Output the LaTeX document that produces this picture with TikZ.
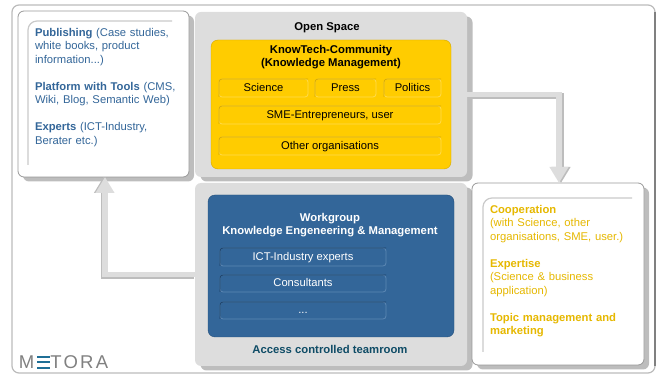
\documentclass[tikz,border=0pt]{standalone}
\usepackage{fontspec}
\setmainfont{Liberation Sans}
\newfontfamily\logofont[LetterSpace=12]{Liberation Sans}
\usetikzlibrary{arrows.meta,positioning,shadows}
\definecolor{panelgrey}{HTML}{DDDDDD}
\definecolor{shadowgrey}{HTML}{BDBDBD}
\definecolor{framegrey}{HTML}{BBBBBB}
\definecolor{community}{HTML}{FFCC00}
\definecolor{communityedge}{HTML}{D4A800}
\definecolor{communitylight}{HTML}{FFDB4D}
\definecolor{workgroup}{HTML}{336699}
\definecolor{workgroupedge}{HTML}{1A3F66}
\definecolor{workgrouplight}{HTML}{5C88B4}
\definecolor{infoblue}{HTML}{336699}
\definecolor{infogold}{HTML}{E6B800}
\definecolor{logoteal}{HTML}{1F6F96}
\definecolor{roomteal}{HTML}{0F4C66}
\newcommand{\logobars}{\textcolor{logoteal}{\rlap{\rule[0pt]{12.5pt}{1.9pt}}\rlap{\rule[5.6pt]{12.5pt}{1.9pt}}\rule[11.3pt]{12.5pt}{1.9pt}}}

\begin{document}
\begin{tikzpicture}[x=1pt,y=-1pt,>=Stealth,
	box node/.style={anchor=north west,inner sep=0pt,outer sep=0pt},
	grey node/.style={box node,fill=panelgrey,rounded corners=6pt,minimum width=272pt,
		drop shadow={shadow xshift=5.5pt,shadow yshift=-4.5pt,fill=shadowgrey,opacity=1}},
	white node/.style={box node,draw=gray!80,fill=white,thick,rounded corners=6pt,
		drop shadow={shadow xshift=5pt,shadow yshift=-4.5pt,fill=shadowgrey,opacity=1}},
	inner box/.style={box node,rounded corners=7pt},
	sub node/.style={inner sep=0pt,outer sep=0pt,rounded corners=3pt,minimum height=18pt,
		line width=0.8pt,text height=8pt,text depth=1pt,font=\fontsize{11.2}{13.5}\selectfont},
	yellow sub/.style={sub node,draw=communitylight},
	blue sub/.style={sub node,draw=workgrouplight,text=white,minimum width=166pt},
	title node/.style={font=\fontsize{11.3}{13.5}\selectfont\bfseries,align=center,inner sep=0pt},
	info node/.style={box node,align=left,font=\fontsize{11.25}{13.5}\selectfont},
	inner line/.style={draw=shadowgrey!80,line width=1.2pt,rounded corners=9pt},
	flow line/.style={draw=panelgrey,line width=5.5pt,-{Triangle[length=16pt,width=18pt]}},
	flow shade/.style={draw=shadowgrey,line width=5.5pt,-{Triangle[length=16pt,width=18pt]}}]
	\useasboundingbox (0,0) rectangle (657,374);

	% frame and logo
	\node[box node,draw=framegrey,line width=1.2pt,rounded corners=7pt,minimum width=643pt,minimum height=368pt] (frame) at (12,5) {};
	\draw[gray,line width=1.2pt] ([yshift=-7pt]frame.north east) -- ([yshift=7pt]frame.south east);
	\node[box node,anchor=base west,text=gray,font=\logofont\fontsize{18.5}{20}\selectfont] (logo) at (19,369) {M\hspace{3pt}\logobars\hspace{0.5pt}TORA};

	% left box
	\node[white node,minimum width=171pt,minimum height=166pt] (info) at (18,11) {};
	\draw[inner line] (172,21) -- (28,21) -- (28,165);
	\node[info node,text=infoblue,text width=150pt] (infotext) at (35,28) {\textbf{Publishing} (Case studies,\\white books, product\\information...)\\[13.5pt]\textbf{Platform with Tools} (CMS,\\Wiki, Blog, Semantic Web)\\[13.5pt]\textbf{Experts} (ICT-Industry,\\Berater etc.)};

	% open space
	\node[grey node,minimum height=165pt] (open) at (195,12) {};
	\node[title node] (opentitle) at (327,28) {Open Space};
	\node[inner box,fill=community,draw=communityedge,minimum width=240pt,minimum height=129pt] (know) at (211,40) {};
	\node[title node,anchor=north] (knowtitle) at (331,45) {KnowTech-Community\\(Knowledge Management)};
	\node[yellow sub,box node,minimum width=89pt] (science) at (219,79) {Science};
	\node[yellow sub,minimum width=61pt] (press) [right=7pt of science] {Press};
	\node[yellow sub,minimum width=57pt] (politics) [right=8pt of press] {Politics};
	\node[yellow sub,box node,minimum width=222pt] (sme) at (219,106) {SME-Entrepreneurs, user};
	\node[yellow sub,box node,minimum width=222pt] (other) at (219,137) {Other organisations};
	\foreach \n in {science,press,politics,sme,other}
		\draw[communityedge,line width=0.8pt,rounded corners=3pt] (\n.south west) -- (\n.north west) -- (\n.north east);

	% teamroom
	\node[grey node,minimum height=183pt] (team) at (195,183) {};
	\node[inner box,fill=workgroup,draw=workgroupedge!60!workgroup,minimum width=246pt,minimum height=142pt] (work) at (208,195) {};
	\node[title node,anchor=north,text=white] (worktitle) at (330,213) {Workgroup\\Knowledge Engeneering \& Management};
	\node[blue sub,box node,minimum height=18pt] (ict) at (220,248) {ICT-Industry experts};
	\node[blue sub,minimum height=17pt] (consult) [below=9pt of ict] {Consultants};
	\node[blue sub,minimum height=17pt] (dots) [below=10pt of consult] {...};
	\foreach \n in {ict,consult,dots}
		\draw[workgroupedge,line width=0.8pt,rounded corners=3pt] (\n.south west) -- (\n.north west) -- (\n.north east);
	\node[title node,text=roomteal] (roomtitle) at (330,349.5) {Access controlled teamroom};

	% right box
	\node[white node,minimum width=172pt,minimum height=182pt] (coop) at (472,183) {};
	\draw[inner line] (632,198) -- (483,198) -- (483,352);
	\node[info node,text=infogold,text width=150pt] (cooptext) at (490,205) {\textbf{Cooperation}\\(with Science, other\\organisations, SME, user.)\\[13.5pt]\textbf{Expertise}\\(Science \& business\\application)\\[13.5pt]\textbf{Topic management and}\\\textbf{marketing}};

	% arrows between the rooms
	\draw[flow shade] ([xshift=1pt,yshift=-1.5pt]open.east) -| ([xshift=3pt]coop.north);
	\draw[flow line] (open.east) -| ([xshift=1pt]coop.north);
	\draw[flow shade] ([xshift=-1pt,yshift=-1.5pt]team.west) -| (info.south);
	\draw[flow line] (team.west) -| ([xshift=1.5pt]info.south);
\end{tikzpicture}
\end{document}
